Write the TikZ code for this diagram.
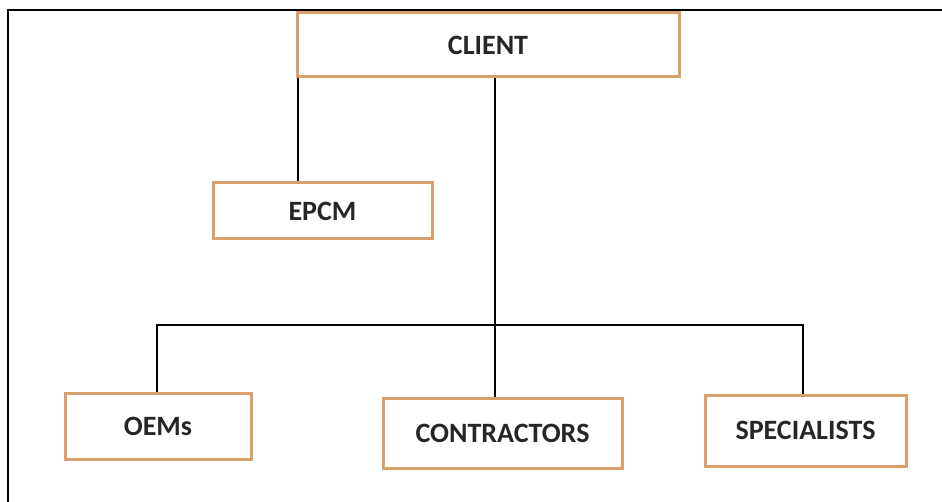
\documentclass[tikz,border=0pt]{standalone}
\usepackage{fontspec}
\setmainfont{Carlito}
\definecolor{boxline}{RGB}{218,160,108}
\begin{document}
\begin{tikzpicture}[x=1pt,y=-1pt,
  orgbox/.style={draw=boxline, line width=3pt, fill=white, inner sep=0pt,
    font=\fontsize{28}{30}\selectfont\bfseries, text=black!85},
  conn/.style={draw=black, line width=1.6pt},
  frame/.style={draw=black, line width=2.2pt}]
\useasboundingbox (0,0) rectangle (942,502);
\draw[frame] (8,510) -- (8,10) -- (950,10);
\node[orgbox, minimum width=382pt, minimum height=64pt] (client) at (488,45) {CLIENT};
\node[orgbox, minimum width=219pt, minimum height=56pt] (epcm) at (322.5,211) {EPCM};
\node[orgbox, minimum width=186pt, minimum height=66pt] (oems) at (158,426) {OEMs};
\node[orgbox, minimum width=239pt, minimum height=70pt] (contr) at (502.5,433) {CONTRACTORS};
\node[orgbox, minimum width=201pt, minimum height=71pt] (spec) at (805.5,430.5) {SPECIALISTS};
\coordinate (jl) at (157,325);
\coordinate (jr) at (803,325);
\draw[conn] (client.south -| 298,0) -- (epcm.north -| 298,0);
\draw[conn] (client.south -| 495,0) -- (contr.north -| 495,0);
\draw[conn] (oems.north -| jl) -- (jl) -- (jr) -- (spec.north -| jr);
\end{tikzpicture}
\end{document}
